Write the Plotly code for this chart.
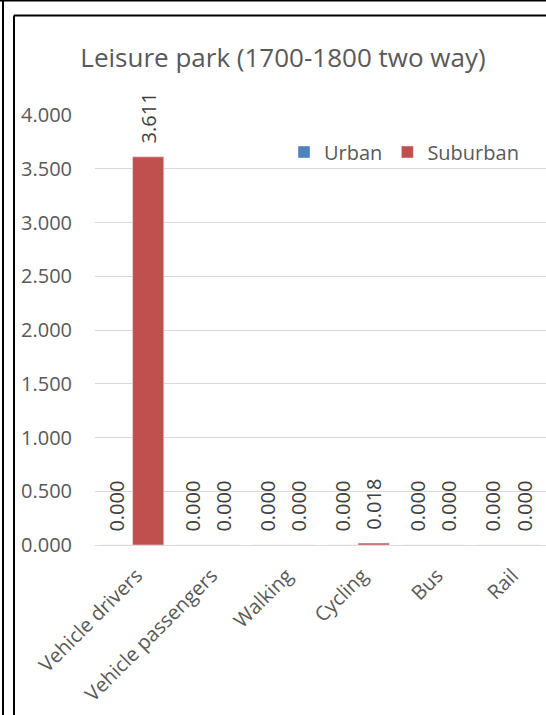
import plotly.graph_objects as go

categories = ["Vehicle drivers", "Vehicle passengers", "Walking", "Cycling", "Bus", "Rail"]
urban = [0.0, 0.0, 0.0, 0.0, 0.0, 0.0]
suburban = [3.611, 0.0, 0.0, 0.018, 0.0, 0.0]
y_ticks = [0, 0.5, 1.0, 1.5, 2.0, 2.5, 3.0, 3.5, 4.0]

W, H = 546, 715
L, R, T, B = 95, 0, 115, 170
PW, PH = W - L - R, H - T - B

def px(x):
    return (x - L) / PW

def py(y):
    return (H - B - y) / PH

FONT = "Open Sans"
GREY = "#595959"

def labels(vals):
    return ["\u00a0\u00a0" + f"{v:.3f}" for v in vals]

fig = go.Figure()
fig.add_trace(go.Bar(name="Urban", x=categories, y=urban, marker_color="#4F81BD",
                     text=labels(urban), textposition="outside", textangle=-90,
                     constraintext="none",
                     textfont=dict(size=20, color="#404040", family=FONT), cliponaxis=False))
fig.add_trace(go.Bar(name="Suburban", x=categories, y=suburban, marker_color="#C0504D",
                     text=labels(suburban), textposition="outside", textangle=-90,
                     constraintext="none",
                     textfont=dict(size=20, color="#404040", family=FONT), cliponaxis=False))

line = dict(color="black", width=2)
shapes = [
    dict(type="line", xref="paper", yref="paper", x0=px(0), x1=px(546), y0=py(0.5), y1=py(0.5), line=line),
    dict(type="line", xref="paper", yref="paper", x0=px(3), x1=px(3), y0=py(0), y1=py(730), line=line),
    dict(type="line", xref="paper", yref="paper", x0=px(14), x1=px(14), y0=py(15.5), y1=py(730), line=line),
    dict(type="line", xref="paper", yref="paper", x0=px(14), x1=px(546), y0=py(15.5), y1=py(15.5), line=line),
]

fig.update_layout(
    width=W, height=H,
    margin=dict(l=L, r=R, t=T, b=B, autoexpand=False),
    paper_bgcolor="white", plot_bgcolor="white",
    barmode="group", bargap=0.17, bargroupgap=0,
    font=dict(family=FONT, color=GREY),
    title=dict(text="Leisure park (1700-1800 two way)", x=283 / W, xanchor="center",
               y=1 - 58 / H, yanchor="middle", font=dict(size=26, color=GREY, family=FONT)),
    legend=dict(orientation="h", x=px(284), y=py(152), xanchor="left", yanchor="middle",
                font=dict(size=20, color=GREY, family=FONT), bgcolor="rgba(0,0,0,0)",
                itemwidth=30, traceorder="normal"),
    xaxis=dict(tickangle=-45, tickfont=dict(size=20, color=GREY, family=FONT),
               showline=True, linecolor="#D9D9D9", ticks="", showgrid=False,
               ticklabelstandoff=10, ticklabelshift=4, automargin=False),
    yaxis=dict(range=[0, 4.0], tickvals=y_ticks, tickformat=".3f",
               tickfont=dict(size=20, color=GREY, family=FONT), showgrid=True,
               gridcolor="#D9D9D9", zeroline=False, showline=False, ticks="",
               ticklabelstandoff=22, automargin=False),
    shapes=shapes,
)

fig.write_html("out.html", config={"displayModeBar": False})
with open("out.html", "r", encoding="utf-8") as f:
    html = f.read()
html = html.replace("<head>", "<head><style>html,body{margin:0;padding:0;overflow:hidden;}</style>", 1)
with open("out.html", "w", encoding="utf-8") as f:
    f.write(html)
